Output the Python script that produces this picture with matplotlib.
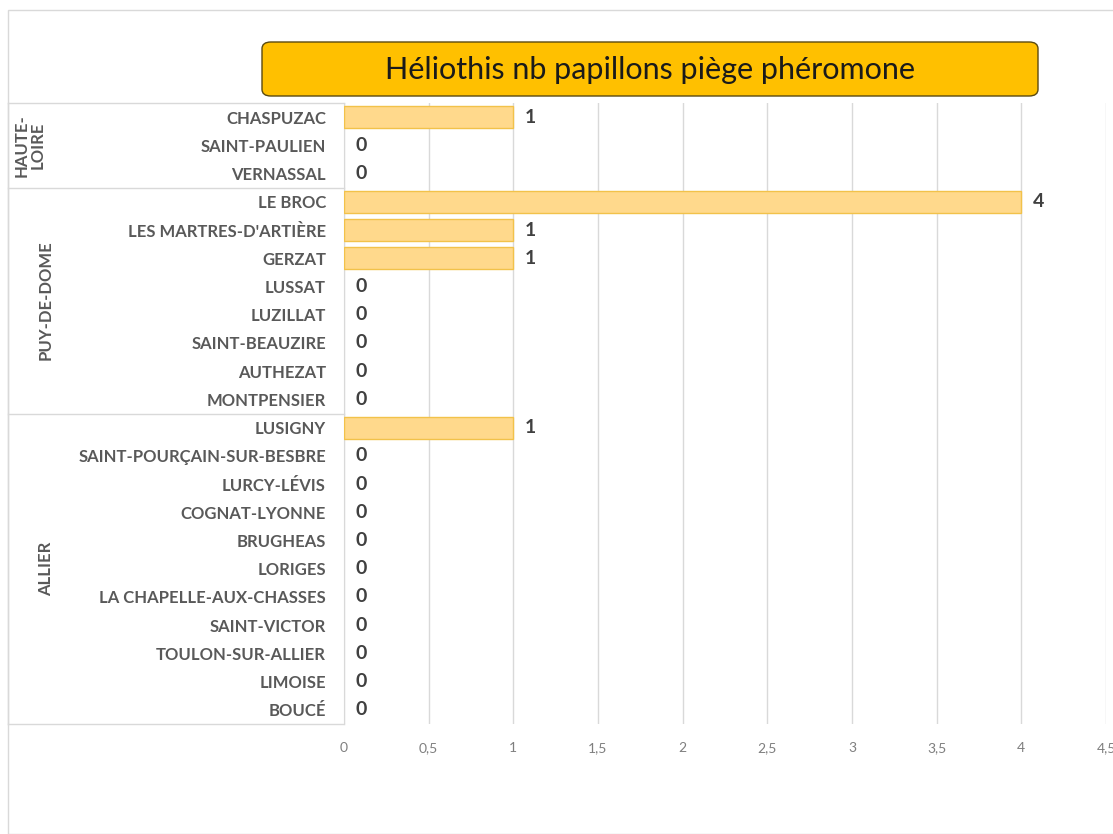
import matplotlib
matplotlib.use('Agg')
import matplotlib.pyplot as plt
from matplotlib.patches import FancyBboxPatch, Rectangle
from matplotlib.transforms import blended_transform_factory
from matplotlib.ticker import MultipleLocator, FuncFormatter

plt.rcParams['font.family'] = ['Lato', 'DejaVu Sans']

# Data
communes = ['CHASPUZAC', 'SAINT-PAULIEN', 'VERNASSAL',
            'LE BROC', "LES MARTRES-D'ARTIÈRE", 'GERZAT', 'LUSSAT', 'LUZILLAT',
            'SAINT-BEAUZIRE', 'AUTHEZAT', 'MONTPENSIER',
            'LUSIGNY', 'SAINT-POURÇAIN-SUR-BESBRE', 'LURCY-LÉVIS', 'COGNAT-LYONNE',
            'BRUGHEAS', 'LORIGES', 'LA CHAPELLE-AUX-CHASSES', 'SAINT-VICTOR',
            'TOULON-SUR-ALLIER', 'LIMOISE', 'BOUCÉ']
papillons = [1, 0, 0,
             4, 1, 1, 0, 0, 0, 0, 0,
             1, 0, 0, 0, 0, 0, 0, 0, 0, 0, 0]
departements = ['HAUTE-\nLOIRE', 'PUY-DE-DOME', 'ALLIER']
nb_par_departement = [3, 8, 11]

W, H = 1113, 834
fig = plt.figure(figsize=(W / 100, H / 100), dpi=100)

# outer chart border
fig.patches.append(Rectangle((8 / W, 0), 1.2, 1 - 10 / H, transform=fig.transFigure,
                             fill=False, edgecolor='#D9D9D9', linewidth=1))

ax = fig.add_axes([344 / W, 1 - 724 / H, (1106 - 344) / W, (724 - 103) / H])

y = list(range(len(communes)))
bars = ax.barh(y, papillons, height=0.78, color='#FFD98C', edgecolor='#F2C24A', linewidth=1, zorder=3)
# no outline on empty bars
for b, v in zip(bars, papillons):
    if v == 0:
        b.set_linewidth(0)
ax.bar_label(bars, labels=[str(v) for v in papillons], padding=8,
             fontsize=14, fontweight='bold', color='#404040')

ax.set_xlim(0, 4.5)
ax.set_ylim(len(communes) - 0.5, -0.5)
ax.xaxis.set_major_locator(MultipleLocator(0.5))
ax.xaxis.set_major_formatter(FuncFormatter(lambda v, p: ('%g' % v).replace('.', ',')))
ax.grid(axis='x', color='#D9D9D9', linewidth=1, zorder=0)
ax.tick_params(axis='x', length=0, pad=13, labelsize=10, labelcolor='#7F7F7F')
ax.set_yticks(y)
ax.set_yticklabels(communes, fontsize=12, fontweight='bold', color='#595959')
ax.tick_params(axis='y', length=0, pad=13)
for s in ['top', 'right', 'bottom']:
    ax.spines[s].set_visible(False)
ax.spines['left'].set_color('#D9D9D9')

# department table on the left
tr = blended_transform_factory(fig.transFigure, ax.transData)
x0, x1 = 8 / W, 344 / W
start = 0
bounds = [-0.5]
for dep, n in zip(departements, nb_par_departement):
    mid = start + (n - 1) / 2
    xl = 30 / W if '\n' in dep else 46 / W
    ax.text(xl, mid, dep, transform=tr, rotation=90, ha='center', va='center',
            fontsize=12, fontweight='bold', color='#595959', linespacing=1.0)
    start += n
    bounds.append(start - 0.5)
for b in bounds:
    ax.plot([x0, x1], [b, b], transform=tr, color='#D9D9D9', linewidth=1, clip_on=False)
ax.plot([x0, x0], [bounds[0], bounds[-1]], transform=tr, color='#D9D9D9', linewidth=1, clip_on=False)

# title box
fig.patches.append(FancyBboxPatch((262 / W, 1 - 96 / H), (1038 - 262) / W, (96 - 42) / H,
                                  boxstyle='round,pad=0,rounding_size=0.008',
                                  transform=fig.transFigure, facecolor='#FFC000',
                                  edgecolor='#5A4A10', linewidth=1))
fig.text(650 / W, 1 - 70 / H, 'Héliothis nb papillons piège phéromone', ha='center', va='center',
         fontsize=22, color='#1A1A1A')

fig.savefig('out.png', dpi=100)
